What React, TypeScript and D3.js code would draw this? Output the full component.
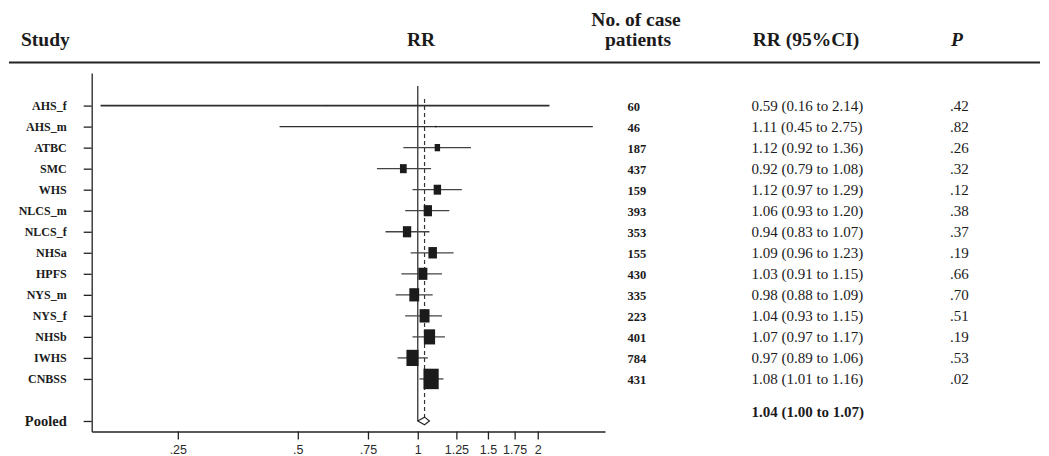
import React, { useEffect, useRef } from "react";
import * as d3 from "d3";

// study rows, top to bottom
const studies = ["AHS_f", "AHS_m", "ATBC", "SMC", "WHS", "NLCS_m", "NLCS_f", "NHSa", "HPFS", "NYS_m", "NYS_f", "NHSb", "IWHS", "CNBSS"];
const rr = [0.59, 1.11, 1.12, 0.92, 1.12, 1.06, 0.94, 1.09, 1.03, 0.98, 1.04, 1.07, 0.97, 1.08];
const lower = [0.16, 0.45, 0.92, 0.79, 0.97, 0.93, 0.83, 0.96, 0.91, 0.88, 0.93, 0.97, 0.89, 1.01];
const upper = [2.14, 2.75, 1.36, 1.08, 1.29, 1.20, 1.07, 1.23, 1.15, 1.09, 1.15, 1.17, 1.06, 1.16];
// percent weight of each study (box area)
const weights = [0.06, 0.12, 2.6, 4.05, 4.88, 6.09, 6.14, 6.45, 7.23, 8.65, 8.8, 11.28, 12.98, 20.67];
const cases = [60, 46, 187, 437, 159, 393, 353, 155, 430, 335, 223, 401, 784, 431];
const pValues = [".42", ".82", ".26", ".32", ".12", ".38", ".37", ".19", ".66", ".70", ".51", ".19", ".53", ".02"];

const pooled = { label: "Pooled", rr: 1.04, lower: 1.0, upper: 1.07 };
const xTicks = [0.25, 0.5, 0.75, 1, 1.25, 1.5, 1.75, 2];
const xTickLabels = [".25", ".5", ".75", "1", "1.25", "1.5", "1.75", "2"];

const W = 1049;
const H = 456;
const serif = "'Liberation Serif', 'Times New Roman', serif";
const sans = "'Liberation Sans', Arial, sans-serif";
const ink = "#1b1b1b";

const pooledRow = studies.length + 1;

export default function App() {
  const xAxisRef = useRef<SVGGElement>(null);
  const yAxisRef = useRef<SVGGElement>(null);

  const x = d3.scaleLog().domain([0.152, 2.95]).range([91.7, 605]);
  const y = d3.scaleLinear().domain([-1.55, 15.5]).range([73, 431.5]);
  const boxW = d3.scaleSqrt().domain([0, 1]).range([0, 3.35]);
  const boxH = d3.scaleSqrt().domain([0, 1]).range([0, 4.5]);

  const rowIdx = [...studies.map((_, i) => i), pooledRow];

  useEffect(() => {
    const gx = d3.select(xAxisRef.current);
    gx.selectAll("*").remove();
    gx.call(
      d3
        .axisBottom(x)
        .tickValues(xTicks)
        .tickFormat((_, i) => xTickLabels[i])
        .tickSize(8)
        .tickSizeOuter(0)
        .tickPadding(6)
    );
    gx.selectAll("path, line").attr("stroke", "#222").attr("stroke-width", 1.3);
    gx.selectAll("text").attr("font-family", sans).attr("font-size", 12.5).attr("fill", "#2a2a2a");

    const gy = d3.select(yAxisRef.current);
    gy.selectAll("*").remove();
    gy.call(
      d3
        .axisLeft(y)
        .tickValues(rowIdx)
        .tickFormat((d) => (d === pooledRow ? pooled.label : studies[d as number]))
        .tickSize(8)
        .tickSizeOuter(0)
        .tickPadding(17)
    );
    gy.selectAll("path, line").attr("stroke", "#222").attr("stroke-width", 1.3);
    gy.selectAll("text")
      .attr("font-family", serif)
      .attr("font-weight", "bold")
      .attr("fill", ink)
      .attr("dy", "0.3em")
      .attr("font-size", (d) => (d === pooledRow ? 14.5 : 12));
  }, []);

  const x1 = x(1);
  const xp = x(pooled.rr);
  const yp = y(pooledRow);

  return (
    <svg width={W} height={H} style={{ position: "absolute", left: 0, top: 0, background: "#fff" }}>
      {/* header */}
      <g fontFamily={serif} fontWeight="bold" fill={ink} fontSize={19.5}>
        <text x={21} y={46}>Study</text>
        <text x={421} y={46} textAnchor="middle">RR</text>
        <text x={636} y={26} textAnchor="middle">No. of case</text>
        <text x={638} y={46} textAnchor="middle">patients</text>
        <text x={806} y={46} textAnchor="middle">RR (95%CI)</text>
        <text x={957} y={46} textAnchor="middle" fontStyle="italic">P</text>
      </g>
      <line x1={9} x2={1040} y1={62.5} y2={62.5} stroke="#222" strokeWidth={1.8} />

      {/* axes */}
      <g ref={yAxisRef} transform={`translate(${x.range()[0]},0)`} />
      <g ref={xAxisRef} transform={`translate(0,${y.range()[1]})`} />

      {/* null line and pooled estimate line */}
      <line x1={x1} x2={x1} y1={86} y2={yp} stroke="#333" strokeWidth={1.3} />
      <line x1={xp} x2={xp} y1={99} y2={yp - 3.5} stroke="#333" strokeWidth={1.2} strokeDasharray="4,3" />

      {/* study CIs and boxes */}
      {studies.map((s, i) => {
        const cy = y(i);
        const bw = boxW(weights[i]);
        const bh = boxH(weights[i]);
        return (
          <g key={s}>
            <line
              x1={x(lower[i])}
              x2={x(upper[i])}
              y1={cy}
              y2={cy}
              stroke={i < 2 ? "#2e2e2e" : "#444"}
              strokeWidth={i === 0 ? 1.6 : 1.3}
            />
            <rect x={x(rr[i]) - bw / 2} y={cy - bh / 2} width={bw} height={bh} fill={ink} />
          </g>
        );
      })}

      {/* pooled diamond */}
      <path
        d={`M${x(pooled.lower)},${yp} L${xp},${yp - 3.8} L${x(pooled.upper)},${yp} L${xp},${yp + 3.8} Z`}
        fill="#fff"
        stroke="#222"
        strokeWidth={1.1}
      />

      {/* table columns */}
      <g fontFamily={serif} fill={ink}>
        {studies.map((s, i) => {
          const cy = y(i);
          return (
            <g key={s}>
              <text x={627.5} y={cy + 5.5} fontSize={12.5} fontWeight="bold">{cases[i]}</text>
              <text x={751.5} y={cy + 5.5} fontSize={15}>
                {`${rr[i].toFixed(2)} (${lower[i].toFixed(2)} to ${upper[i].toFixed(2)})`}
              </text>
              <text x={950} y={cy + 5.5} fontSize={15}>{pValues[i]}</text>
            </g>
          );
        })}
        <text x={751.5} y={yp - 4} fontSize={15} fontWeight="bold">
          {`${pooled.rr.toFixed(2)} (${pooled.lower.toFixed(2)} to ${pooled.upper.toFixed(2)})`}
        </text>
      </g>
    </svg>
  );
}
